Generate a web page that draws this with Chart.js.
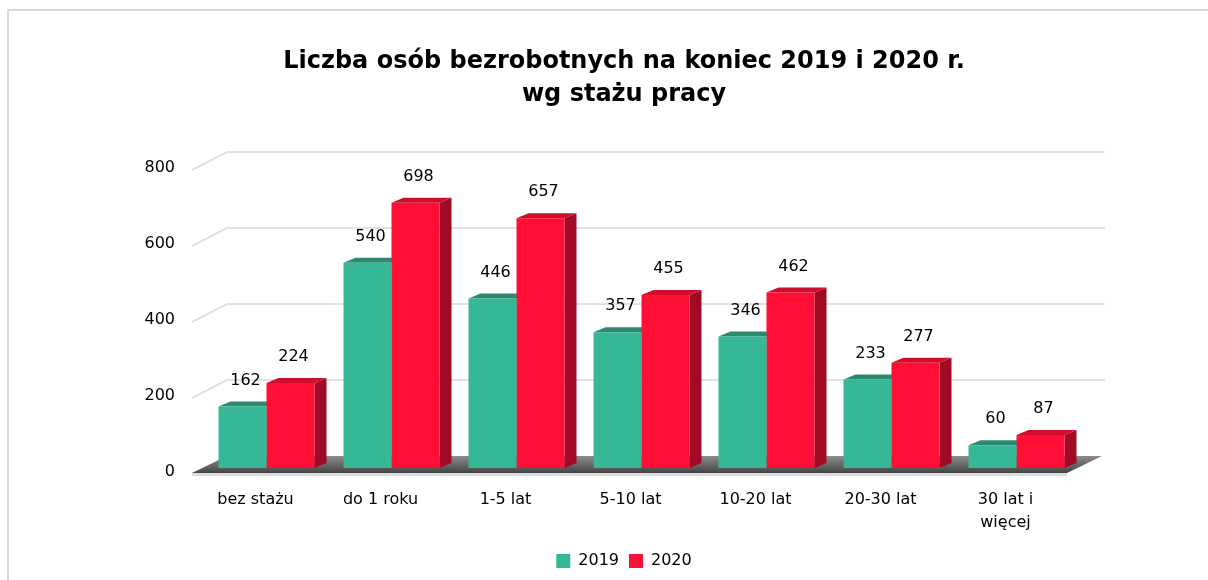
<!DOCTYPE html>
<html>
<head>
<meta charset="utf-8">
<script src="https://cdn.jsdelivr.net/npm/chart.js@4.4.1/dist/chart.umd.min.js"></script>
<style>
  html, body { margin: 0; padding: 0; background: #fff; overflow: hidden; }
  #wrap { position: relative; width: 1208px; height: 580px; }
  #frame { position: absolute; left: 7px; top: 9px; width: 1300px; height: 700px; border: 2px solid #d9d9d9; box-sizing: border-box; }
  canvas { position: absolute; left: 0; top: 0; }
</style>
</head>
<body>
<div id="wrap">
  <div id="frame"></div>
  <canvas id="c" width="1208" height="580"></canvas>
</div>
<script>
const titleLines = ['Liczba osób bezrobotnych na koniec 2019 i 2020 r.', 'wg stażu pracy'];
const categories = ['bez stażu', 'do 1 roku', '1-5 lat', '5-10 lat', '10-20 lat', '20-30 lat', ['30 lat i', 'więcej']];
const seriesNames = ['2019', '2020'];
const values2019 = [162, 540, 446, 357, 346, 233, 60];
const values2020 = [224, 698, 657, 455, 462, 277, 87];
const yTicks = [0, 200, 400, 600, 800];

const FONT = "'DejaVu Sans', Verdana, sans-serif";
const colors = {
  front: ['#36b795', '#ff0e35'],
  top: ['#2b8a70', '#cf0d2c'],
  side: ['#247a63', '#a00a24']
};
const DX = 12, DY = -5;             // bar depth
const WALL_DX = 23, WALL_DY = -12;  // back wall offset from bar plane
const FRONT_DX = -12, FRONT_DY = 6; // front floor edge offset

const threeD = {
  id: 'threeD',
  beforeDatasetsDraw(chart) {
    const ctx = chart.ctx;
    const area = chart.chartArea;
    const y = chart.scales.y;
    const L = area.left, R = area.right, B = area.bottom;
    ctx.save();
    ctx.strokeStyle = '#d9d9d9';
    ctx.lineWidth = 1.5;
    yTicks.forEach(v => {
      if (v === 0) return;
      const py = y.getPixelForValue(v);
      ctx.beginPath();
      ctx.moveTo(L + FRONT_DX, py + FRONT_DY);
      ctx.lineTo(L + WALL_DX, py + WALL_DY);
      ctx.lineTo(R + WALL_DX + 3, py + WALL_DY);
      ctx.stroke();
    });
    const g = ctx.createLinearGradient(0, B + WALL_DY, 0, B + FRONT_DY);
    g.addColorStop(0, '#8c8c8c');
    g.addColorStop(1, '#404040');
    ctx.fillStyle = g;
    ctx.beginPath();
    ctx.moveTo(L + FRONT_DX, B + FRONT_DY - 1);
    ctx.lineTo(R + FRONT_DX, B + FRONT_DY - 1);
    ctx.lineTo(R + WALL_DX, B + WALL_DY);
    ctx.lineTo(L + WALL_DX, B + WALL_DY);
    ctx.closePath();
    ctx.fill();
    ctx.fillStyle = '#dcdcdc';
    ctx.fillRect(L + FRONT_DX, B + FRONT_DY - 1, R - L, 3);
    chart.data.datasets.forEach((ds, di) => {
      const meta = chart.getDatasetMeta(di);
      meta.data.forEach(bar => {
        const x0 = bar.x - bar.width / 2, x1 = bar.x + bar.width / 2;
        const t = bar.y, b = bar.base;
        ctx.fillStyle = colors.side[di];
        ctx.beginPath();
        ctx.moveTo(x1, t); ctx.lineTo(x1 + DX, t + DY);
        ctx.lineTo(x1 + DX, b + DY); ctx.lineTo(x1, b);
        ctx.closePath(); ctx.fill();
        ctx.fillStyle = colors.top[di];
        ctx.beginPath();
        ctx.moveTo(x0, t); ctx.lineTo(x1, t);
        ctx.lineTo(x1 + DX, t + DY); ctx.lineTo(x0 + DX, t + DY);
        ctx.closePath(); ctx.fill();
      });
    });
    ctx.restore();
  },
  afterDatasetsDraw(chart) {
    const ctx = chart.ctx;
    ctx.save();
    ctx.fillStyle = '#000';
    ctx.font = '16px ' + FONT;
    ctx.textAlign = 'center';
    ctx.textBaseline = 'middle';
    chart.data.datasets.forEach((ds, di) => {
      const meta = chart.getDatasetMeta(di);
      meta.data.forEach((bar, i) => {
        ctx.fillText(String(ds.data[i]), bar.x + 3, bar.y - 26);
      });
    });
    ctx.restore();
  }
};

new Chart(document.getElementById('c'), {
  type: 'bar',
  data: {
    labels: categories,
    datasets: [
      { label: seriesNames[0], data: values2019, backgroundColor: colors.front[0], borderWidth: 0 },
      { label: seriesNames[1], data: values2020, backgroundColor: colors.front[1], borderWidth: 0 }
    ]
  },
  plugins: [threeD],
  options: {
    responsive: false,
    animation: false,
    devicePixelRatio: 1,
    layout: { padding: { left: 40, right: 0, top: 0, bottom: 1 } },
    datasets: { bar: { categoryPercentage: 0.768, barPercentage: 1 } },
    scales: {
      x: {
        grid: { display: false, drawTicks: false },
        border: { display: false },
        ticks: { color: '#000', font: { family: FONT, size: 16, lineHeight: 1.4 }, padding: 21, labelOffset: -11, maxRotation: 0, autoSkip: false },
        afterFit(scale) { scale.height = 75; }
      },
      y: {
        min: 0, max: 800,
        afterBuildTicks(scale) { scale.ticks = yTicks.map(v => ({ value: v })); },
        grid: { display: false, drawTicks: false },
        border: { display: false },
        ticks: { color: '#000', font: { family: FONT, size: 16 }, padding: 29, labelOffset: 4 },
        afterFit(scale) { scale.width = 164; }
      },
      spacer: {
        type: 'linear',
        position: 'right',
        display: true,
        grid: { display: false, drawTicks: false },
        border: { display: false },
        ticks: { display: false },
        afterFit(scale) { scale.width = 129; }
      }
    },
    plugins: {
      title: {
        display: true,
        text: titleLines,
        color: '#000',
        font: { family: FONT, size: 24, weight: 'bold', lineHeight: 1.375 },
        padding: { top: 45, bottom: 53 }
      },
      legend: {
        position: 'bottom',
        labels: { color: '#000', font: { family: FONT, size: 16 }, boxWidth: 14, boxHeight: 14, padding: 10 }
      },
      tooltip: { enabled: false }
    }
  }
});
</script>
</body>
</html>
